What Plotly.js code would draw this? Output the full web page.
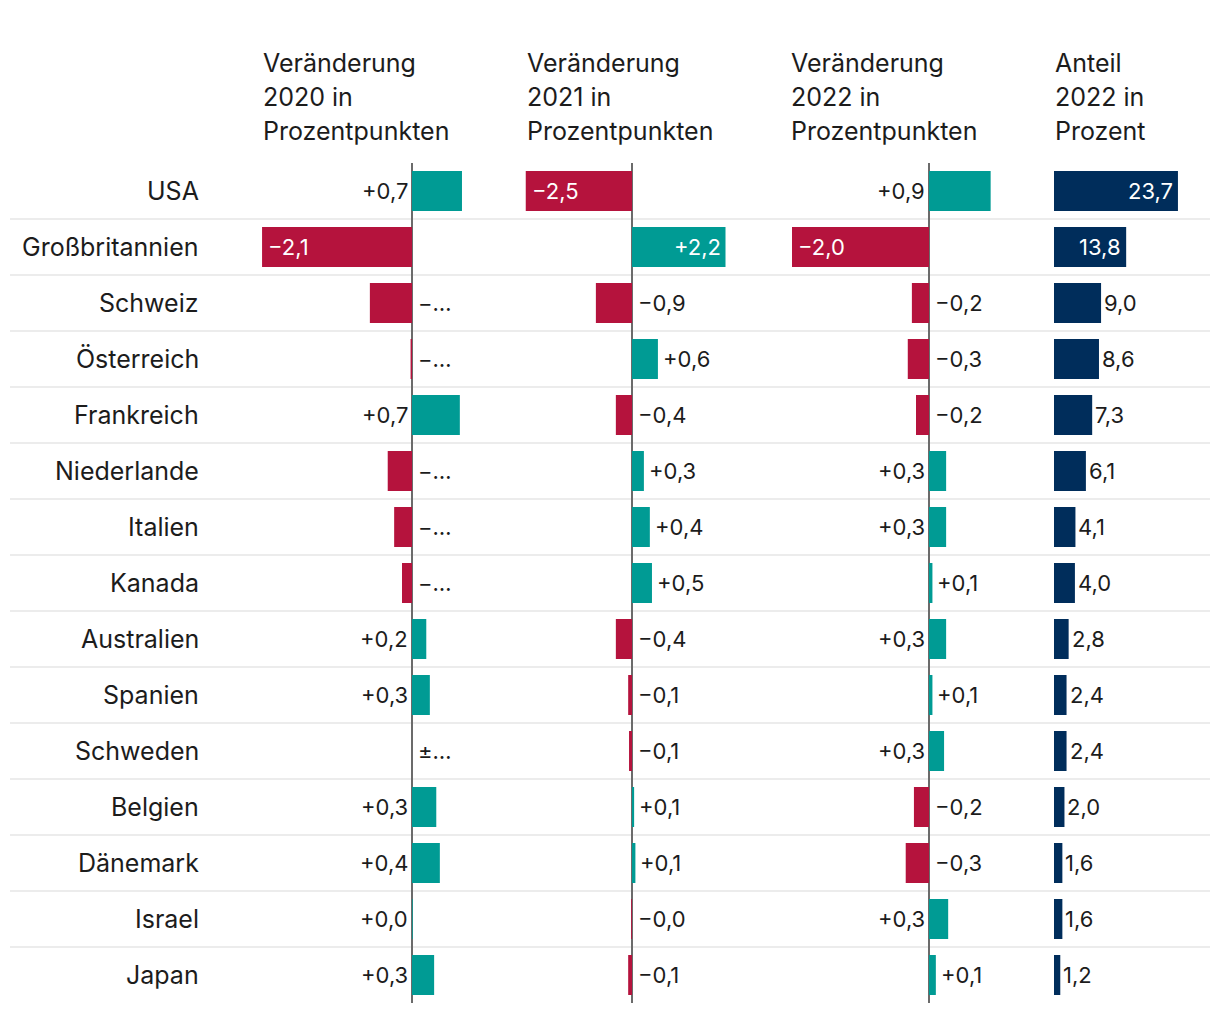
<!DOCTYPE html>
<html><head><meta charset="utf-8">
<script src="https://cdn.plot.ly/plotly-3.0.1.min.js"></script>
<style>html,body{margin:0;padding:0;background:#fff}#c{width:1220px;height:1012px}</style>
</head><body><div id="c"></div>
<script>
const countries = ["USA","Großbritannien","Schweiz","Österreich","Frankreich","Niederlande","Italien","Kanada","Australien","Spanien","Schweden","Belgien","Dänemark","Israel","Japan"];

const change2020 = [0.7,-2.1,-0.59,-0.02,0.67,-0.34,-0.25,-0.14,0.2,0.25,0,0.34,0.39,0.01,0.31];
const labels2020 = ["+0,7","−2,1","−…","−…","+0,7","−…","−…","−…","+0,2","+0,3","±…","+0,3","+0,4","+0,0","+0,3"];

const change2021 = [-2.5,2.2,-0.85,0.61,-0.38,0.28,0.42,0.47,-0.38,-0.09,-0.07,0.05,0.08,-0.02,-0.09];
const labels2021 = ["−2,5","+2,2","−0,9","+0,6","−0,4","+0,3","+0,4","+0,5","−0,4","−0,1","−0,1","+0,1","+0,1","−0,0","−0,1"];

const change2022 = [0.9,-2.0,-0.25,-0.31,-0.19,0.25,0.25,0.05,0.25,0.05,0.22,-0.22,-0.34,0.28,0.1];
const labels2022 = ["+0,9","−2,0","−0,2","−0,3","−0,2","+0,3","+0,3","+0,1","+0,3","+0,1","+0,3","−0,2","−0,3","+0,3","+0,1"];

const share2022 = [23.7,13.8,9.0,8.6,7.3,6.1,4.1,4.0,2.8,2.4,2.4,2.0,1.6,1.6,1.2];
const labelsShare = ["23,7","13,8","9,0","8,6","7,3","6,1","4,1","4,0","2,8","2,4","2,4","2,0","1,6","1,6","1,2"];

const headers = [
  ["Veränderung","2020 in","Prozentpunkten"],
  ["Veränderung","2021 in","Prozentpunkten"],
  ["Veränderung","2022 in","Prozentpunkten"],
  ["Anteil","2022 in","Prozent"]
];

// ---- styling / layout ----
const W = 1220, H = 1012;
const FONT = "Inter, Lato, 'DejaVu Sans', sans-serif";
const TEAL = "#009b94", RED = "#b5133d", NAVY = "#002d5b", TXT = "#1c1c1c";
const px = v => v / W;
const py = v => 1 - v / H;

const panels = [
  {vals: change2020, labs: labels2020, ax: "x",  dom: [260, 500], zero: 412, scale: 71.4, pos: "zeroLeft", smallPos: 0, hx: 261},
  {vals: change2021, labs: labels2021, ax: "x2", dom: [522, 764], zero: 632, scale: 42.5, pos: "barEnd", smallPos: 0, hx: 525},
  {vals: change2022, labs: labels2022, ax: "x3", dom: [786, 1028], zero: 929, scale: 68.5, pos: "zeroLeft", smallPos: 0.15, hx: 789},
  {vals: share2022, labs: labelsShare, ax: "x4", dom: [1054, 1212], zero: 1054, scale: 5.23, share: true, hx: 1053}
];

const traces = [];
const annotations = [];
const layout = {
  width: W, height: H,
  margin: {l: 0, r: 0, t: 0, b: 0},
  paper_bgcolor: "#fff", plot_bgcolor: "rgba(0,0,0,0)",
  showlegend: false,
  bargap: 0.286,
  font: {family: FONT, color: TXT, size: 22},
  yaxis: {domain: [py(1003), py(163)], type: "category", categoryorder: "array", categoryarray: countries,
          range: [14.5, -0.5], showgrid: false, zeroline: false, showticklabels: false, ticks: "", fixedrange: true},
  shapes: [],
  annotations: annotations
};

panels.forEach((p, k) => {
  const axName = p.ax === "x" ? "xaxis" : "xaxis" + p.ax.slice(1);
  const range = [(p.dom[0] - p.zero) / p.scale, (p.dom[1] - p.zero) / p.scale];
  layout[axName] = {
    domain: [px(p.dom[0]), px(p.dom[1])], range: range, anchor: "y",
    showgrid: false, showticklabels: false, ticks: "", showline: false,
    zeroline: !p.share, zerolinecolor: "#6b6b6b", zerolinewidth: 2, fixedrange: true
  };
  traces.push({
    type: "bar", orientation: "h", x: p.vals, y: countries, xaxis: p.ax, yaxis: "y",
    marker: {color: p.share ? NAVY : p.vals.map(v => v >= 0 ? TEAL : RED), line: {width: 0}},
    hoverinfo: "skip"
  });
  p.vals.forEach((v, i) => {
    const a = {xref: p.ax, yref: "y", y: countries[i], text: p.labs[i], showarrow: false,
               font: {family: FONT, size: 22, color: TXT}, yanchor: "middle"};
    if (p.share) {
      if (v > 10) { a.x = v; a.xanchor = "right"; a.xshift = -3; a.font.color = "#fff"; }
      else { a.x = v; a.xanchor = "left"; a.xshift = 1; }
    } else if (Math.abs(v) > 1.5) {
      a.x = v; a.font.color = "#fff";
      if (v < 0) { a.xanchor = "left"; a.xshift = 4; } else { a.xanchor = "right"; a.xshift = -3; }
    } else if (v < 0 || (v === 0 && p.labs[i].startsWith("±"))) {
      a.x = 0; a.xanchor = "left"; a.xshift = 4;
    } else if (p.pos === "barEnd" || v < p.smallPos) {
      a.x = v; a.xanchor = "left"; a.xshift = 3;
    } else {
      a.x = 0; a.xanchor = "right"; a.xshift = -2;
    }
    annotations.push(a);
  });
  headers[k].forEach((line, j) => {
    annotations.push({xref: "paper", yref: "paper", x: px(p.hx), y: py(63 + 34 * j), xanchor: "left", yanchor: "middle",
      text: line, showarrow: false, font: {family: FONT, size: 25, color: TXT}});
  });
});

countries.forEach((c, i) => {
  annotations.push({xref: "paper", yref: "y", x: px(201), y: c, xanchor: "right", yanchor: "middle",
    text: c, showarrow: false, font: {family: FONT, size: 25, color: TXT}});
  if (i < countries.length - 1) {
    layout.shapes.push({type: "line", xref: "paper", yref: "y", x0: px(10), x1: px(1210), y0: i + 0.5, y1: i + 0.5,
      line: {color: "#ececec", width: 2}, layer: "below"});
  }
});

Plotly.newPlot("c", traces, layout, {staticPlot: true, displayModeBar: false});
</script>
</body></html>
